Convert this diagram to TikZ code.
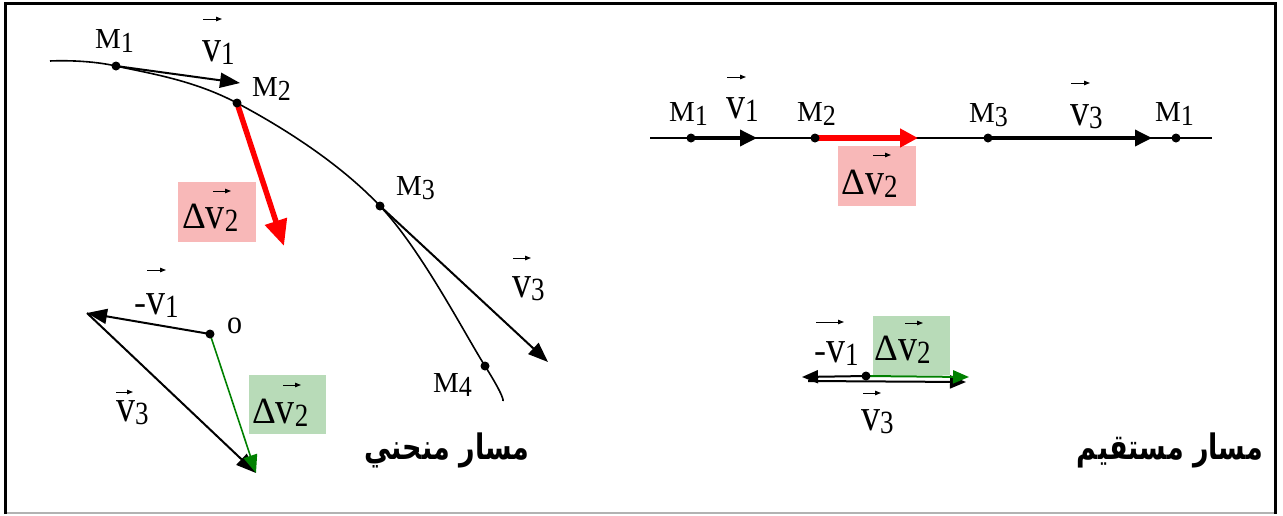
\documentclass[tikz,border=0pt]{standalone}
\usepackage{graphicx}
\usepackage{fontspec}
\setmainfont{Liberation Serif}
\newfontfamily\arabicfont[Script=Arabic]{DejaVu Sans}
\TeXXeTstate=1
\usetikzlibrary{arrows.meta}
\definecolor{pinkc}{RGB}{248,184,184}
\definecolor{greenc}{RGB}{184,219,184}
\definecolor{dgreen}{RGB}{0,128,0}
\newcommand\bigv{\scalebox{1}[1.2]{\fontsize{38}{38}\selectfont v}}
\newcommand\vsub[1]{\raisebox{-3pt}{\scalebox{1}[1.2]{\fontsize{27}{27}\selectfont #1}}}
\newcommand\msub[1]{\raisebox{-4pt}{\scalebox{1}[1.12]{\fontsize{26}{26}\selectfont #1}}}
\newcommand\Mlab[1]{{\fontsize{29}{29}\selectfont M}\msub{#1}}
\newcommand\Vlab[1]{\bigv\vsub{#1}}
\newcommand\DVlab{{\fontsize{37}{37}\selectfont Δ}\bigv\vsub{2}}
\begin{document}
\begin{tikzpicture}[x=1pt,y=-1pt,
  dot/.style={circle,fill=black,inner sep=0pt,minimum size=9pt},
  lab/.style={inner sep=0pt,anchor=base west},
  pinkbox/.style={fill=pinkc,minimum width=78pt,minimum height=60pt,inner sep=0pt},
  greenbox/.style={fill=greenc,minimum width=77pt,minimum height=59pt,inner sep=0pt},
  curve/.style={line width=1.6pt},
  vec/.style={line width=2pt,-{Triangle[length=20pt,width=15pt]}},
  hvec/.style={line width=3.5pt,-{Triangle[length=17pt,width=16pt]}},
  redvec/.style={draw=red,line width=5.5pt,-{Triangle[length=26pt,width=22pt]}},
  hredvec/.style={draw=red,line width=6pt,-{Triangle[length=18pt,width=18pt]}},
  gvec/.style={draw=dgreen,line width=1.6pt,-{Triangle[length=18pt,width=14pt]}},
  vmark/.style={line width=1pt,-{Triangle[length=6pt,width=4.5pt]}},
  arab/.style={font=\arabicfont\bfseries\fontsize{27}{27}\selectfont,inner sep=0pt}
]
\useasboundingbox (0,0) rectangle (1283,515);
% frame
\draw[gray!60,line width=1.5pt] (5,513) -- (1275,513);
\draw[line width=3pt] (5.5,514) -- (5.5,3) -- (1275,3) -- (1275,514);

% ---------- curved trajectory ----------
\coordinate (c0) at (50,61);
\coordinate (m1) at (116,66);
\coordinate (m2) at (237,103);
\coordinate (m3) at (380,206);
\coordinate (m4) at (485,366);
\coordinate (c5) at (503,401);
\draw[curve] plot[smooth,tension=0.6] coordinates {(c0) (m1) (m2) (m3) (m4) (c5)};
\coordinate (v1tip) at (240,83);
\coordinate (dvtip) at (284,246);
\coordinate (v3tip) at (548,362);
\draw[vec] (m1) -- (v1tip);
\draw[vec] (m3) -- (v3tip);
\node[pinkbox] (pbL) at (217,212) {};
\draw[redvec] (m2) -- (dvtip);
\foreach \p in {m1,m2,m3,m4} \node[dot] (d\p) at (\p) {};
\node[lab] (lM1) at (95,48) {\Mlab{1}};
\node[lab] (lv1) at (202,61) {\Vlab{1}};
\node[lab] (lM2) at (252,96) {\Mlab{2}};
\node[lab] (lM3) at (396,195) {\Mlab{3}};
\node[lab] (lv3) at (512,297) {\Vlab{3}};
\node[lab] (lM4) at (433,392) {\Mlab{4}};
\node[lab] (ldvL) at (182,228) {\DVlab};
\draw[vmark] ([shift={(1,-42)}]lv1.base west) -- ++(19,0);
\draw[vmark] ([shift={(1,-39)}]lv3.base west) -- ++(18,0);
\draw[vmark] ([shift={(31,-37)}]ldvL.base west) -- ++(18,0);

% ---------- vector triangle ----------
\coordinate (o) at (210,334);
\coordinate (a) at (87,313);
\coordinate (b) at (256,473);
\node[greenbox] (gbL) at (287,404) {};
\draw[vec] (o) -- (a);
\draw[vec] (a) -- (b);
\draw[gvec] (o) -- (b);
\node[dot] (dO) at (o) {};
\node[lab] (lO) at (227,333) {\scalebox{1}[1.1]{\fontsize{30}{30}\selectfont o}};
\node[lab] (lmv1) at (134,314) {{\fontsize{36}{36}\selectfont -}\bigv\vsub{1}};
\node[lab] (lv3b) at (116,421) {\Vlab{3}};
\node[lab] (ldvG) at (252,423) {\DVlab};
\draw[vmark] ([shift={(13,-44)}]lmv1.base west) -- ++(19,0);
\draw[vmark] ([shift={(0,-29)}]lv3b.base west) -- ++(17,0);
\draw[vmark] ([shift={(31,-38)}]ldvG.base west) -- ++(18,0);
\node[arab] (t1) at (447,450) {\scalebox{1}[1.3]{\beginR مسار منحني\endR}};

% ---------- straight trajectory ----------
\coordinate (s0) at (650,138);
\coordinate (s5) at (1212,138);
\coordinate (n1) at (691,138);
\coordinate (n2) at (815,138);
\coordinate (n3) at (988,138);
\coordinate (n4) at (1176,138);
\coordinate (t1tip) at (757,138);
\coordinate (t2tip) at (918,138);
\coordinate (t3tip) at (1152,138);
\draw[curve] (s0) -- (s5);
\node[pinkbox] (pbR) at (877,176) {};
\draw[hvec] (n1) -- (t1tip);
\draw[hvec] (n3) -- (t3tip);
\draw[hredvec] (n2) -- (t2tip);
\foreach \p in {n1,n2,n3,n4} \node[dot] (d\p) at (\p) {};
\node[lab] (rM1) at (669,121) {\Mlab{1}};
\node[lab] (rv1) at (726,118) {\Vlab{1}};
\node[lab] (rM2) at (797,121) {\Mlab{2}};
\node[lab] (rM3) at (969,122) {\Mlab{3}};
\node[lab] (rv3) at (1070,125) {\Vlab{3}};
\node[lab] (rM1b) at (1155,121) {\Mlab{1}};
\node[lab] (rdv) at (841,194) {\DVlab};
\draw[vmark] ([shift={(1,-41)}]rv1.base west) -- ++(19,0);
\draw[vmark] ([shift={(1,-42)}]rv3.base west) -- ++(19,0);
\draw[vmark] ([shift={(32,-39)}]rdv.base west) -- ++(18,0);

% ---------- collinear vectors ----------
\coordinate (p) at (866,376);
\coordinate (q) at (802,377);
\coordinate (q2) at (808,381);
\coordinate (r) at (966,382);
\coordinate (g) at (969,377);
\node[greenbox] (gbR) at (911,345) {};
\draw[line width=2pt,-{Triangle[length=16pt,width=13pt]}] (p) -- (q);
\draw[line width=2pt,-{Triangle[length=16pt,width=13pt]}] (q2) -- (r);
\draw[draw=dgreen,line width=2pt,-{Triangle[length=16pt,width=13pt]}] (p) -- (g);
\node[dot] (dp) at (p) {};
\node[lab] (rmv1) at (814,362) {{\fontsize{36}{36}\selectfont -}\bigv\vsub{1}};
\node[lab] (rv3b) at (861,430) {\Vlab{3}};
\node[lab] (rdvG) at (874,360) {\DVlab};
\draw[vmark] ([shift={(2,-40)}]rmv1.base west) -- ++(28,0);
\draw[vmark] ([shift={(2,-37)}]rv3b.base west) -- ++(18,0);
\draw[vmark] ([shift={(31,-37)}]rdvG.base west) -- ++(18,0);
\node[arab] (t2) at (1170,450) {\scalebox{1}[1.3]{\beginR مسار مستقيم\endR}};
\end{tikzpicture}
\end{document}
